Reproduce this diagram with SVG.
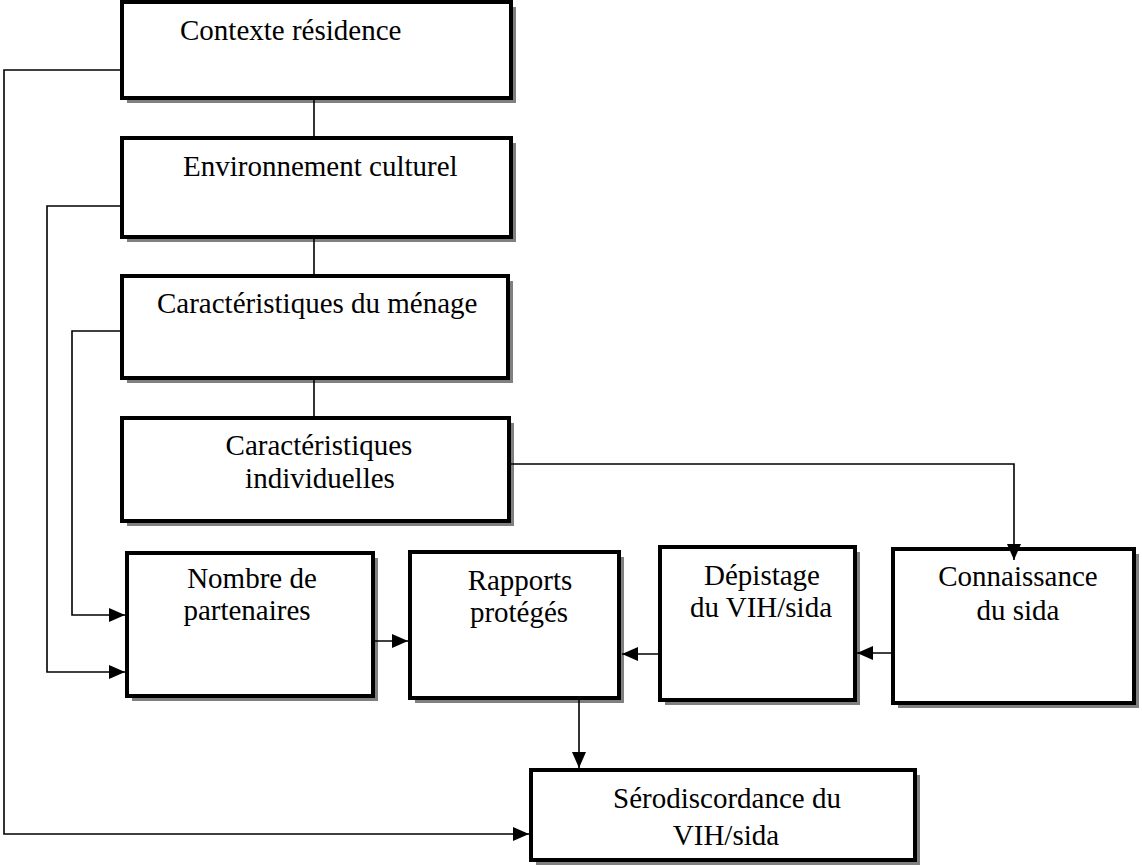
<svg xmlns="http://www.w3.org/2000/svg" width="1142" height="865" viewBox="0 0 1142 865">
<style>
.sh{fill:#808080;stroke:none}
.bx{fill:#fff;stroke:#000;stroke-width:4}
.t{font-family:"Liberation Serif","Times New Roman",serif;font-size:29px;fill:#000}
.m{text-anchor:middle}
.c{fill:none;stroke:#000;stroke-width:1.6}
.a{marker-end:url(#ah)}
</style>
<defs>
<marker id="ah" markerUnits="userSpaceOnUse" markerWidth="17" markerHeight="15" refX="16" refY="7" orient="auto">
<path d="M0,0 L16,7 L0,14 z" fill="#000"/>
</marker>
</defs>
<rect width="1142" height="865" fill="#fff"/>
<g id="contexte">
<rect class="sh" x="127" y="7" width="389" height="96"/>
<rect class="bx" x="122" y="2" width="389" height="96"/>
<text class="t" x="180" y="40">Contexte résidence</text>
</g>
<g id="environnement">
<rect class="sh" x="127" y="143" width="389" height="99"/>
<rect class="bx" x="122" y="138" width="389" height="99"/>
<text class="t" x="183" y="176">Environnement culturel</text>
</g>
<g id="menage">
<rect class="sh" x="127" y="281" width="386" height="102"/>
<rect class="bx" x="122" y="276" width="386" height="102"/>
<text class="t" x="157" y="313">Caractéristiques du ménage</text>
</g>
<g id="individuelles">
<rect class="sh" x="127" y="423" width="387" height="103"/>
<rect class="bx" x="122" y="418" width="387" height="103"/>
<text class="t m" x="319" y="455">Caractéristiques</text>
<text class="t m" x="320" y="488">individuelles</text>
</g>
<g id="partenaires">
<rect class="sh" x="132" y="558" width="246" height="143"/>
<rect class="bx" x="127" y="553" width="246" height="143"/>
<text class="t m" x="252" y="588">Nombre de</text>
<text class="t m" x="247" y="620">partenaires</text>
</g>
<g id="rapports">
<rect class="sh" x="415" y="557" width="209" height="146"/>
<rect class="bx" x="410" y="552" width="209" height="146"/>
<text class="t m" x="520" y="590">Rapports</text>
<text class="t m" x="519" y="622">protégés</text>
</g>
<g id="depistage">
<rect class="sh" x="665" y="552" width="195" height="153"/>
<rect class="bx" x="660" y="547" width="195" height="153"/>
<text class="t m" x="762" y="585">Dépistage</text>
<text class="t m" x="761" y="617">du VIH/sida</text>
</g>
<g id="connaissance">
<rect class="sh" x="898" y="554" width="241" height="154"/>
<rect class="bx" x="893" y="549" width="241" height="154"/>
<text class="t m" x="1018" y="586">Connaissance</text>
<text class="t m" x="1018" y="620">du sida</text>
</g>
<g id="serodiscordance">
<rect class="sh" x="536" y="775" width="384" height="90"/>
<rect class="bx" x="531" y="770" width="384" height="90"/>
<text class="t m" x="727" y="808">Sérodiscordance du</text>
<text class="t m" x="726" y="845">VIH/sida</text>
</g>
<g id="connectors">
<path class="c" d="M314,100 V136"/>
<path class="c" d="M314,239 V274"/>
<path class="c" d="M314,380 V416"/>
<path class="c a" d="M120,70 H4 V834 H529"/>
<path class="c a" d="M120,206 H47 V672 H125"/>
<path class="c a" d="M120,331 H72 V615 H125"/>
<path class="c a" d="M511,464 H1014 V560"/>
<path class="c a" d="M375,641 H408"/>
<path class="c a" d="M658,654 H622"/>
<path class="c a" d="M891,653 H857"/>
<path class="c a" d="M579,700 V768"/>
</g>
</svg>
